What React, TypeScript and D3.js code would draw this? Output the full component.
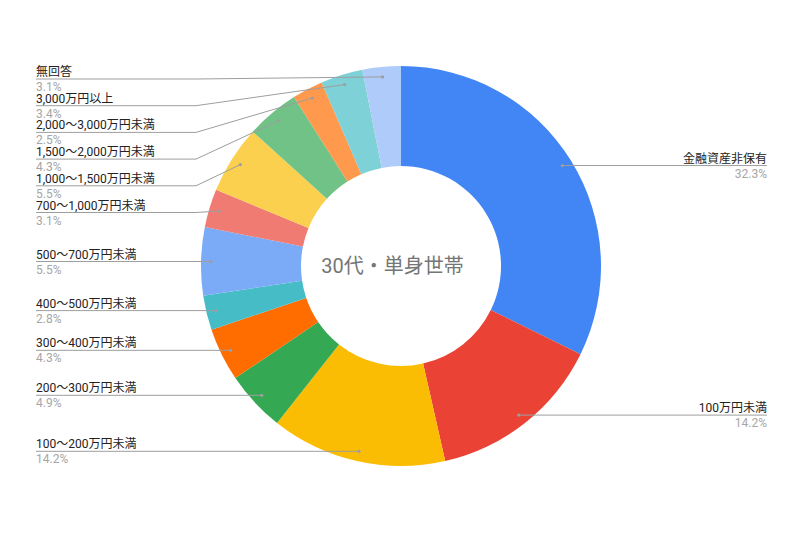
import React from "react";
import * as d3 from "d3";

const categories = [
  "金融資産非保有",
  "100万円未満",
  "100〜200万円未満",
  "200〜300万円未満",
  "300〜400万円未満",
  "400〜500万円未満",
  "500〜700万円未満",
  "700〜1,000万円未満",
  "1,000〜1,500万円未満",
  "1,500〜2,000万円未満",
  "2,000〜3,000万円未満",
  "3,000万円以上",
  "無回答",
];
const values = [32.3, 14.2, 14.2, 4.9, 4.3, 2.8, 5.5, 3.1, 5.5, 4.3, 2.5, 3.4, 3.1];
const colors = [
  "#4285f4", "#ea4335", "#fbbc04", "#34a853", "#ff6d01", "#46bdc6", "#7baaf7",
  "#f07b72", "#fcd04f", "#71c287", "#ff994d", "#7ed1d7", "#aecbfa",
];
const title = "30代・単身世帯";

const W = 800;
const H = 533;
const cx = 401;
const cy = 266;
const outerR = 200;
const innerR = 100;
const dotR = 190;
const leftX = 36;
const rightX = 767;
const leftElbow = 196;
const rightElbow = 606;
const labelGap = 26.7;
const minLineY = 79;
const FONT = "Roboto, 'Noto Sans CJK JP', sans-serif";

export default function App() {
  const pie = d3
    .pie<number>()
    .value((d) => d)
    .sort(null)
    .startAngle(0)
    .endAngle(2 * Math.PI);
  const arcs = pie(values);
  const arcGen = d3.arc<d3.PieArcDatum<number>>().innerRadius(innerR).outerRadius(outerR);

  const items = arcs.map((a, i) => {
    const mid = (a.startAngle + a.endAngle) / 2;
    return {
      i,
      mid,
      dx: cx + dotR * Math.sin(mid),
      dy: cy - dotR * Math.cos(mid),
      right: mid < Math.PI,
      lineY: 0,
    };
  });

  const layout = (list: typeof items) => {
    const sorted = [...list].sort((a, b) => a.dy - b.dy);
    let prev = -Infinity;
    sorted.forEach((it, k) => {
      let y = Math.max(it.dy, prev + labelGap);
      if (k === 0) y = Math.max(y, minLineY);
      it.lineY = y;
      prev = y;
    });
  };
  layout(items.filter((d) => d.right));
  layout(items.filter((d) => !d.right));

  const fmt = d3.format(".1f");

  return (
    <svg
      width={W}
      height={H}
      style={{ position: "absolute", left: 0, top: 0, background: "#fff" }}
      fontFamily={FONT}
    >
      <rect width={W} height={H} fill="#fff" />
      <g transform={`translate(${cx},${cy})`}>
        {arcs.map((a, i) => (
          <path key={i} d={arcGen(a) || ""} fill={colors[i]} />
        ))}
      </g>
      {items.map((it) => {
        const path = it.right
          ? Math.abs(it.lineY - it.dy) < 0.5
            ? `M${it.dx},${it.dy}H${rightX}`
            : `M${it.dx},${it.dy}L${rightElbow},${it.lineY}H${rightX}`
          : Math.abs(it.lineY - it.dy) < 0.5
          ? `M${leftX},${it.lineY}H${it.dx}`
          : `M${leftX},${it.lineY}H${Math.min(leftElbow, it.dx)}L${it.dx},${it.dy}`;
        return (
          <g key={it.i}>
            <path d={path} fill="none" stroke="#9e9e9e" strokeWidth={1} />
            <circle cx={it.dx} cy={it.dy} r={1.6} fill="#9e9e9e" />
            <text
              x={it.right ? rightX : leftX}
              y={it.lineY - 3}
              fontSize={12}
              fill="#222"
              textAnchor={it.right ? "end" : "start"}
            >
              {categories[it.i]}
            </text>
            <text
              x={it.right ? rightX : leftX}
              y={it.lineY + 12}
              fontSize={12}
              fill="#a6a6a6"
              textAnchor={it.right ? "end" : "start"}
            >
              {fmt(values[it.i])}%
            </text>
          </g>
        );
      })}
      <text x={cx - 8.5} y={273} fontSize={20} fill="#757575" textAnchor="middle">
        {title}
      </text>
    </svg>
  );
}
